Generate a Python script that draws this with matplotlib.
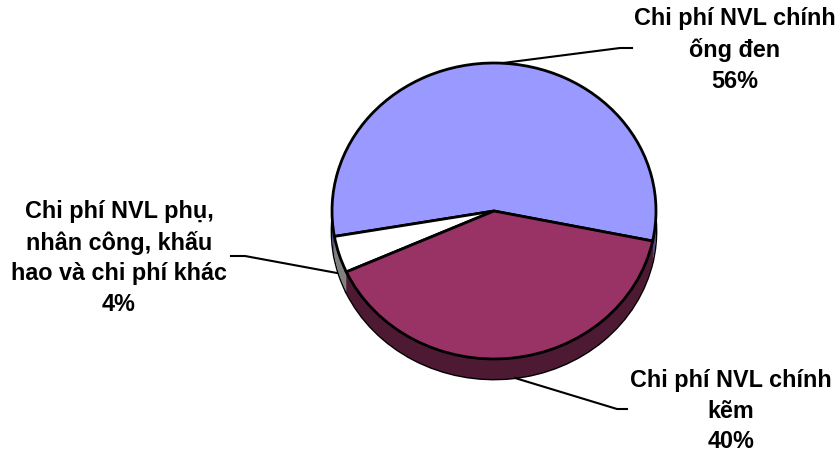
import numpy as np
import matplotlib
matplotlib.use('Agg')
import matplotlib.pyplot as plt

plt.rcParams['font.family'] = ['Liberation Sans', 'DejaVu Sans']

labels = ['Chi phí NVL chính\nống đen\n56%',
          'Chi phí NVL phụ,\nnhân công, khấu\nhao và chi phí khác\n4%',
          'Chi phí NVL chính\nkẽm\n40%']
values = [56, 4, 40]
top_colors = ['#9999ff', '#ffffff', '#993366']
side_colors = ['#4d4d80', '#808080', '#4d1933']

W, H = 840, 453
cx, cy = 494, 211      # pie centre, pixels
rx, ry = 162, 148
depth = 20 / ry
start = -11.7

fig = plt.figure(figsize=(W / 100, H / 100), dpi=100)
ax = fig.add_axes([0, 0, 1, 1])

# lower rim first, then the wall, then the top face
ax.pie(values, colors=side_colors, startangle=start, center=(0, -depth),
       wedgeprops={'edgecolor': 'black', 'linewidth': 2})
for off in np.linspace(depth, 0, 40):
    ax.pie(values, colors=side_colors, startangle=start, center=(0, -off),
           wedgeprops={'linewidth': 0})
ax.pie(values, colors=top_colors, startangle=start,
       wedgeprops={'edgecolor': 'black', 'linewidth': 2})

ax.set_aspect('auto')
ax.set_xlim(-cx / rx, (W - cx) / rx)
ax.set_ylim((cy - H) / ry, cy / ry)
ax.axis('off')

# overlay in pixel coordinates for leaders and labels
ov = fig.add_axes([0, 0, 1, 1], zorder=5)
ov.set_xlim(0, W)
ov.set_ylim(H, 0)
ov.axis('off')

ov.plot([503, 620, 632], [63, 48, 48], color='black', lw=1.5)
ov.plot([231, 245, 337], [256, 256, 273], color='black', lw=1.5)
ov.plot([515, 617, 627], [378, 409, 409], color='black', lw=1.5)

text_pos = [(735, 50), (119, 258), (731, 411)]
for lab, (x, y) in zip(labels, text_pos):
    ov.text(x, y, lab, ha='center', va='center', multialignment='center',
            fontsize=16.8, fontweight='bold', linespacing=1.41)

fig.savefig('out.png', dpi=100)
